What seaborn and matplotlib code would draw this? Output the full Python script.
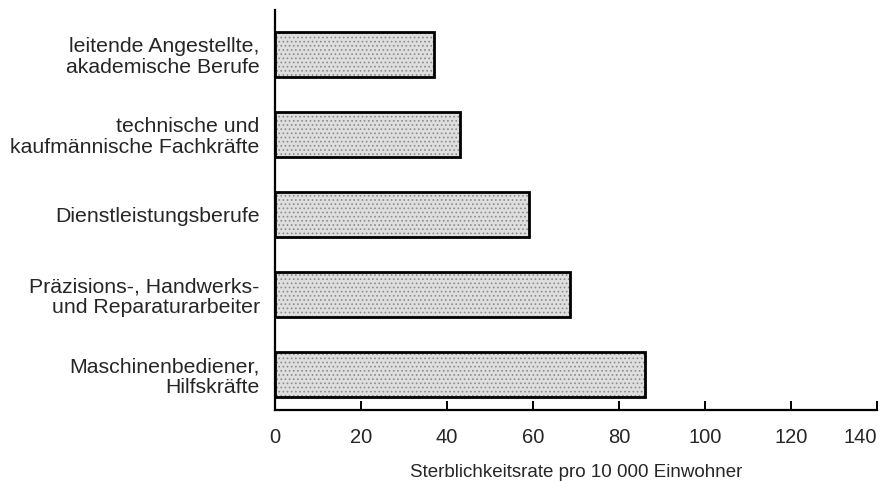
import matplotlib
matplotlib.use("Agg")
import matplotlib.pyplot as plt
import seaborn as sns
import pandas as pd

# categories (top to bottom) and death rates per 10 000 inhabitants
berufe = [
    "leitende Angestellte,\nakademische Berufe",
    "technische und\nkaufmännische Fachkräfte",
    "Dienstleistungsberufe",
    "Präzisions-, Handwerks-\nund Reparaturarbeiter",
    "Maschinenbediener,\nHilfskräfte",
]
raten = [37, 43, 59, 68.5, 86]
x_ticks = [0, 20, 40, 60, 80, 100, 120, 140]
x_label = "Sterblichkeitsrate pro 10 000 Einwohner"

df = pd.DataFrame({"Beruf": berufe, "Rate": raten})

sns.set_style("ticks")
plt.rcParams["font.family"] = ["Liberation Sans", "DejaVu Sans"]
plt.rcParams["hatch.linewidth"] = 0.7

fig, ax = plt.subplots(figsize=(8.88, 4.82), dpi=100)
fig.subplots_adjust(left=0.3097, right=0.9876, top=0.979, bottom=0.149)

# stippled fill first, then the black outline on top
sns.barplot(data=df, x="Rate", y="Beruf", orient="h", width=0.56,
            color="#dedede", edgecolor="#8c8c8c", linewidth=0,
            hatch="....", ax=ax)
sns.barplot(data=df, x="Rate", y="Beruf", orient="h", width=0.56,
            fill=False, color="black", edgecolor="black", linewidth=2,
            ax=ax)

ax.set_xlim(0, 140)
ax.set_ylim(4.45, -0.55)
ax.set_xticks(x_ticks)
ax.set_xlabel(x_label, fontsize=13.5, labelpad=12)
ax.set_ylabel("")

ax.tick_params(axis="x", direction="in", length=6.5, width=1.4,
               labelsize=14.5, pad=13, color="black")
ax.tick_params(axis="y", length=0, labelsize=15.3, pad=11)
for lab in ax.get_yticklabels():
    lab.set_linespacing(1.1)
    lab.set_multialignment("right")
# last tick label sits left of its tick, as in the print
ax.get_xticklabels()[-1].set_horizontalalignment("right")

sns.despine(ax=ax)
for side in ["left", "bottom"]:
    ax.spines[side].set_linewidth(1.6)
    ax.spines[side].set_color("black")

plt.savefig("out.png", dpi=100)
